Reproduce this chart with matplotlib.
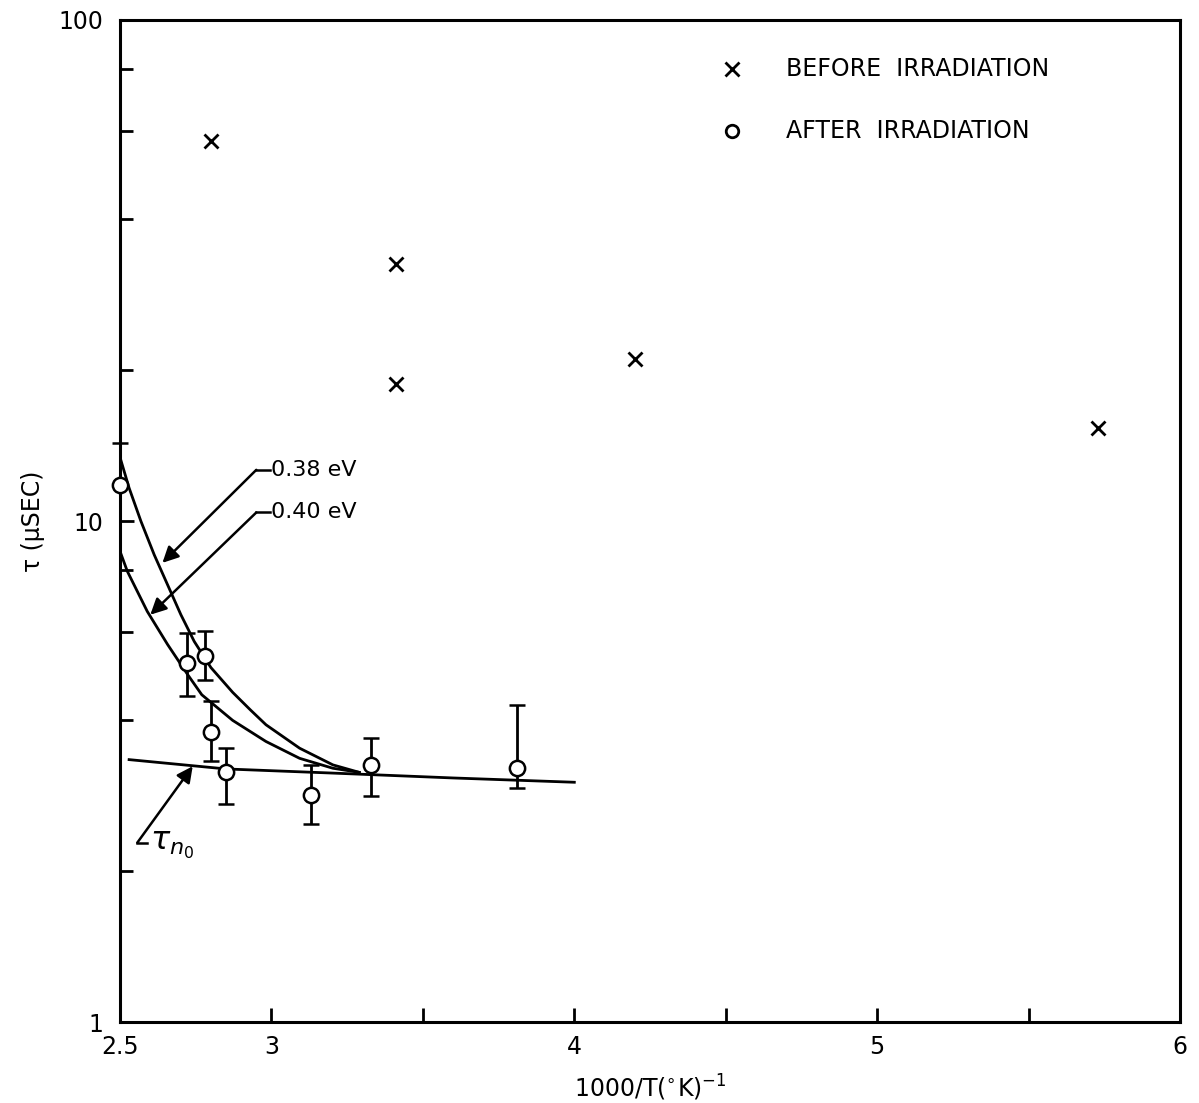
import matplotlib.pyplot as plt
from matplotlib.ticker import FixedLocator, NullFormatter

# before irradiation (x markers)
before_x = [2.80, 3.41, 3.41, 4.20, 5.73]
before_tau = [57.4, 32.6, 18.8, 21.1, 15.3]

# after irradiation (circles with error bars)
after_x = [2.50, 2.72, 2.78, 2.80, 2.85, 3.13, 3.33, 3.81]
after_tau = [11.8, 5.21, 5.37, 3.80, 3.16, 2.84, 3.26, 3.21]
after_hi = [14.3, 5.98, 6.03, 4.37, 3.52, 3.26, 3.69, 4.29]
after_lo = [11.8, 4.47, 4.82, 3.32, 2.72, 2.48, 2.82, 2.93]

# fitted curves
e038_x = [2.50, 2.53, 2.569, 2.613, 2.657, 2.701, 2.745, 2.80, 2.872, 2.93,
          2.982, 3.093, 3.203, 3.29]
e038_tau = [13.4, 11.64, 9.99, 8.56, 7.46, 6.50, 5.75, 5.10, 4.55, 4.20,
            3.92, 3.52, 3.26, 3.15]
e040_x = [2.50, 2.524, 2.59, 2.657, 2.723, 2.77, 2.872, 2.982, 3.093, 3.203,
          3.29]
e040_tau = [8.70, 7.94, 6.60, 5.67, 4.94, 4.50, 4.00, 3.63, 3.36, 3.21, 3.15]
tn0_x = [2.53, 2.85, 3.20, 3.60, 4.00]
tn0_tau = [3.34, 3.20, 3.14, 3.07, 3.01]

LW = 2.0

fig = plt.figure(figsize=(11.99, 11.03), dpi=100)
ax = fig.add_axes([0.1001, 0.0734, 0.8841, 0.9085])
ax.set_yscale("log")
ax.set_xlim(2.5, 6)
ax.set_ylim(1, 100)

ax.plot(e038_x, e038_tau, color="black", lw=LW, solid_joinstyle="round")
ax.plot(e040_x, e040_tau, color="black", lw=LW, solid_joinstyle="round")
ax.plot(tn0_x, tn0_tau, color="black", lw=LW)

yerr = [[t - lo for t, lo in zip(after_tau, after_lo)],
        [hi - t for t, hi in zip(after_tau, after_hi)]]
ax.errorbar(after_x, after_tau, yerr=yerr, fmt="o", ms=11, mfc="white",
            mec="black", mew=1.8, ecolor="black", elinewidth=2, capsize=6,
            capthick=2, zorder=5, clip_on=False)
ax.plot(before_x, before_tau, "x", color="black", ms=10, mew=2)

# legend drawn as text
ax.plot([4.52], [80], "x", color="black", ms=10, mew=2)
ax.plot([4.52], [60], "o", ms=9, mfc="white", mec="black", mew=2)
ax.text(4.70, 80, "BEFORE  IRRADIATION", fontsize=17, va="center")
ax.text(4.70, 60, "AFTER  IRRADIATION", fontsize=17, va="center")

# curve labels
arrow = dict(arrowstyle="-|>", color="black", lw=1.8, mutation_scale=24,
             shrinkA=0, shrinkB=0)
ax.plot([2.95, 2.995], [12.65, 12.65], color="black", lw=1.8)
ax.annotate("", xy=(2.64, 8.25), xytext=(2.95, 12.65), arrowprops=arrow)
ax.text(3.0, 12.65, "0.38 eV", fontsize=16, va="center")
ax.plot([2.95, 2.995], [10.4, 10.4], color="black", lw=1.8)
ax.annotate("", xy=(2.60, 6.5), xytext=(2.95, 10.4), arrowprops=arrow)
ax.text(3.0, 10.4, "0.40 eV", fontsize=16, va="center")
ax.plot([2.557, 2.59], [2.28, 2.28], color="black", lw=1.8)
ax.annotate("", xy=(2.74, 3.24), xytext=(2.557, 2.28), arrowprops=arrow)
ax.text(2.60, 2.25, r"$\tau_{n_0}$", fontsize=23, va="center")

# axes styling
for s in ax.spines.values():
    s.set_linewidth(2.2)
ax.set_xticks([2.5, 3, 3.5, 4, 4.5, 5, 5.5, 6])
ax.set_xticklabels(["2.5", "3", "", "4", "", "5", "", "6"])
ax.yaxis.set_major_locator(FixedLocator([1, 10, 100]))
ax.set_yticklabels(["1", "10", "100"])
ax.yaxis.set_minor_locator(FixedLocator([2, 4, 6, 8, 20, 40, 60, 80]))
ax.yaxis.set_minor_formatter(NullFormatter())
ax.tick_params(which="both", direction="in", width=2, labelsize=17)
ax.tick_params(axis="x", pad=9)
ax.tick_params(axis="y", pad=12)
ax.tick_params(which="major", length=10)
ax.tick_params(which="minor", length=9)
ax.set_xlabel(r"1000/T($^{\circ}$K)$^{-1}$", fontsize=17, labelpad=10)
ax.set_ylabel("τ (μSEC)", fontsize=17, labelpad=10)

fig.savefig("out.png")
